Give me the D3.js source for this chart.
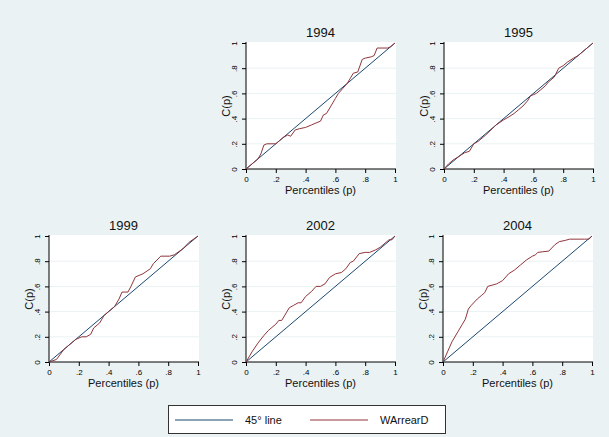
<!DOCTYPE html>
<html><head><meta charset="utf-8">
<script src="https://cdn.jsdelivr.net/npm/d3@7"></script>
<style>body{margin:0;background:#eaf2f3;}svg{display:block;}</style>
</head><body>
<script>
const years = ["1994","1995","1999","2002","2004"];
const tickValues = [0, 0.2, 0.4, 0.6, 0.8, 1];
const tickLabels = ["0", ".2", ".4", ".6", ".8", "1"];
const diagonal = [[0,0],[1,1]];
const curve1994 = [[0,0],[0.04,0.04],[0.08,0.08],[0.1,0.12],[0.12,0.19],[0.14,0.2],[0.2,0.2],[0.22,0.22],[0.25,0.25],[0.28,0.27],[0.3,0.26],[0.33,0.31],[0.36,0.32],[0.4,0.33],[0.44,0.35],[0.5,0.38],[0.52,0.43],[0.54,0.44],[0.57,0.5],[0.6,0.56],[0.62,0.6],[0.65,0.64],[0.68,0.68],[0.7,0.72],[0.72,0.76],[0.75,0.77],[0.78,0.87],[0.8,0.88],[0.84,0.89],[0.86,0.9],[0.88,0.96],[0.95,0.96],[0.97,0.97],[1,1]];
const curve1995 = [[0,0],[0.03,0.04],[0.06,0.07],[0.1,0.1],[0.14,0.13],[0.17,0.14],[0.2,0.2],[0.23,0.22],[0.28,0.27],[0.35,0.35],[0.4,0.39],[0.43,0.41],[0.47,0.44],[0.5,0.47],[0.53,0.5],[0.56,0.54],[0.58,0.58],[0.6,0.59],[0.62,0.6],[0.65,0.63],[0.68,0.66],[0.7,0.69],[0.74,0.73],[0.77,0.8],[0.8,0.82],[0.83,0.85],[0.87,0.88],[0.9,0.9],[0.93,0.93],[0.97,0.97],[1,1]];
const curve1999 = [[0,0],[0.05,0.02],[0.1,0.1],[0.14,0.14],[0.18,0.18],[0.22,0.2],[0.25,0.2],[0.28,0.22],[0.3,0.27],[0.34,0.31],[0.37,0.37],[0.4,0.4],[0.44,0.44],[0.47,0.5],[0.49,0.555],[0.53,0.555],[0.55,0.6],[0.58,0.675],[0.63,0.7],[0.68,0.74],[0.7,0.78],[0.75,0.84],[0.81,0.84],[0.84,0.85],[0.9,0.9],[0.94,0.95],[1,1]];
const curve2002 = [[0,0],[0.04,0.08],[0.08,0.15],[0.12,0.21],[0.15,0.25],[0.2,0.3],[0.22,0.33],[0.24,0.33],[0.27,0.39],[0.29,0.43],[0.32,0.45],[0.35,0.47],[0.37,0.47],[0.4,0.52],[0.44,0.56],[0.47,0.6],[0.5,0.6],[0.53,0.62],[0.56,0.67],[0.6,0.7],[0.64,0.71],[0.67,0.74],[0.7,0.79],[0.72,0.8],[0.76,0.86],[0.8,0.87],[0.83,0.87],[0.87,0.89],[0.9,0.91],[0.94,0.95],[0.96,0.97],[0.98,0.97],[1,1]];
const curve2004 = [[0,0],[0.03,0.08],[0.06,0.16],[0.1,0.24],[0.13,0.3],[0.15,0.34],[0.17,0.42],[0.19,0.45],[0.23,0.5],[0.26,0.53],[0.28,0.55],[0.3,0.6],[0.33,0.61],[0.36,0.62],[0.4,0.646],[0.44,0.7],[0.48,0.73],[0.52,0.77],[0.56,0.81],[0.6,0.84],[0.62,0.85],[0.636,0.87],[0.67,0.875],[0.71,0.88],[0.75,0.93],[0.78,0.955],[0.82,0.965],[0.85,0.975],[0.95,0.975],[0.98,0.975],[1,1]];
const curves = [curve1994, curve1995, curve1999, curve2002, curve2004];
const legendLabels = ["45° line", "WArrearD"];

const colors = { diag: "#1a476f", curve: "#90353b", bg: "#eaf2f3", grid: "#eaf2f3" };
const W = 609, H = 437;
const svg = d3.select("body").append("svg").attr("width", W).attr("height", H);
svg.append("rect").attr("width", W).attr("height", H).attr("fill", colors.bg);

// panel geometry: data-origin x, data-origin (bottom) y
const panelPos = [[246,169],[444,169],[49,362],[246,362],[443,362]];
const pw = 149, ph = 126;
const font = "'Liberation Sans', Arial, sans-serif";

years.forEach((yr, i) => {
  const [ox, oy] = panelPos[i];
  const x = d3.scaleLinear().domain([0,1]).range([ox, ox + pw]);
  const y = d3.scaleLinear().domain([0,1]).range([oy, oy - ph]);
  const g = svg.append("g");
  const left = ox, right = ox + pw + 1, top = oy - ph - 1, bottom = oy;
  g.append("rect").attr("x", left).attr("y", top).attr("width", right-left).attr("height", bottom-top).attr("fill", "#fff");
  // gridlines
  g.selectAll(".grid").data(tickValues.slice(1, 5)).enter().append("line")
    .attr("x1", left).attr("x2", right).attr("y1", d => y(d)).attr("y2", d => y(d))
    .attr("stroke", colors.grid).attr("stroke-width", 1);
  // axes
  const xAxis = d3.axisBottom(x).tickValues(tickValues).tickFormat((d, j) => tickLabels[j]).tickSize(4).tickPadding(3);
  const gx = g.append("g").attr("transform", `translate(0,${bottom})`).call(xAxis);
  gx.select(".domain").attr("d", `M${left},0H${right}`).attr("stroke", "#000");
  gx.selectAll(".tick line").attr("stroke", "#000");
  gx.selectAll("text").attr("font-family", font).attr("font-size", 8).attr("fill", "#000");
  const yAxis = d3.axisLeft(y).tickValues(tickValues).tickFormat((d, j) => tickLabels[j]).tickSize(4).tickPadding(2);
  const gy = g.append("g").attr("transform", `translate(${left},0)`).call(yAxis);
  gy.select(".domain").attr("d", `M0,${top}V${bottom}`).attr("stroke", "#000");
  gy.selectAll(".tick line").attr("stroke", "#000");
  gy.selectAll("text").attr("font-family", font).attr("font-size", 8).attr("fill", "#000")
    .attr("x", null).attr("dy", null)
    .attr("transform", "translate(-9,0) rotate(-90)")
    .attr("text-anchor", "middle").attr("dominant-baseline", "auto");
  // lines
  const line = d3.line().x(d => x(d[0])).y(d => y(d[1]));
  g.append("path").datum(diagonal).attr("d", line).attr("fill", "none").attr("stroke", colors.diag).attr("stroke-width", 1);
  g.append("path").datum(curves[i]).attr("d", line).attr("fill", "none").attr("stroke", colors.curve).attr("stroke-width", 1);
  // labels
  g.append("text").attr("x", ox + pw/2).attr("y", oy - ph - 6).attr("text-anchor", "middle")
    .attr("font-family", font).attr("font-size", 13).attr("fill", "#111").text(yr);
  g.append("text").attr("x", ox + pw/2).attr("y", oy + 25).attr("text-anchor", "middle")
    .attr("font-family", font).attr("font-size", 11).attr("fill", "#111").text("Percentiles (p)");
  g.append("text").attr("transform", `translate(${ox - 16},${oy - ph/2}) rotate(-90)`).attr("text-anchor", "middle")
    .attr("font-family", font).attr("font-size", 11).attr("fill", "#111").text("C(p)");
});

// legend
const lg = svg.append("g");
lg.append("rect").attr("x", 168.5).attr("y", 405.5).attr("width", 277).attr("height", 28).attr("fill", "#fff").attr("stroke", "#333").attr("stroke-width", 1);
const legColors = [colors.diag, colors.curve];
const legX = [175, 310];
legendLabels.forEach((lab, j) => {
  lg.append("line").attr("x1", legX[j]).attr("x2", legX[j] + 58).attr("y1", 420).attr("y2", 420).attr("stroke", legColors[j]).attr("stroke-width", 1);
  lg.append("text").attr("x", legX[j] + 70).attr("y", 424).attr("font-family", font).attr("font-size", 11).attr("fill", "#111").text(lab);
});
</script>
</body></html>
